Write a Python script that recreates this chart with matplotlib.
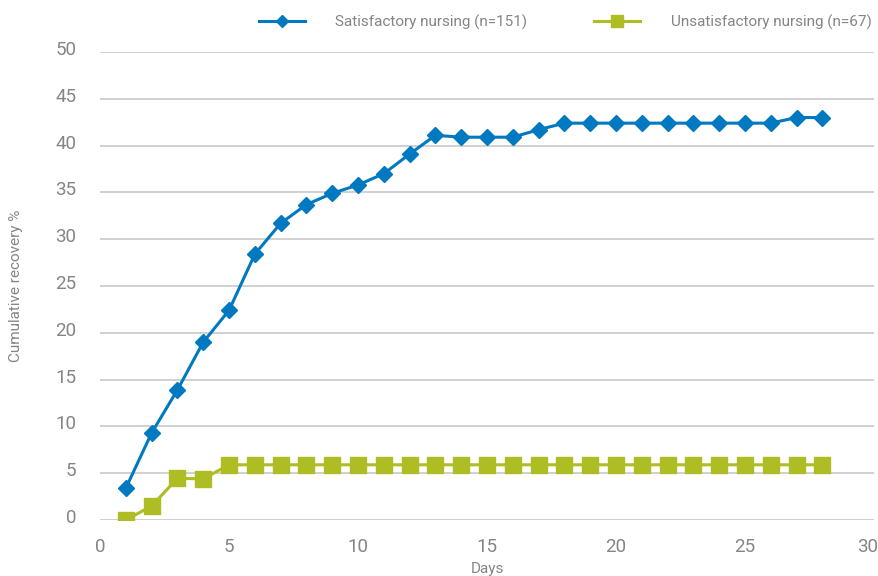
import matplotlib.pyplot as plt
from matplotlib.transforms import ScaledTranslation

plt.rcParams["font.family"] = ["Roboto", "DejaVu Sans"]

# data
days = list(range(1, 29))
satisfactory = [3.4, 9.3, 13.9, 19.0, 22.4, 28.4, 31.7, 33.7, 34.9, 35.8,
                37.0, 39.1, 41.1, 40.9, 40.9, 40.9, 41.7, 42.4, 42.4, 42.4,
                42.4, 42.4, 42.4, 42.4, 42.4, 42.4, 43.0, 43.0]
unsatisfactory = [0.0, 1.5, 4.45, 4.4] + [5.9] * 24

blue = "#0079C1"
green = "#AEBD24"
grey = "#858585"

fig = plt.figure(figsize=(8.79, 5.76), dpi=100)
ax = fig.add_axes([0.1138, 0.0972, 0.8805, 0.8125])

ax.plot(days, satisfactory, color=blue, lw=2.2, marker="D", ms=8,
        label="Satisfactory nursing (n=151)", zorder=3)
ax.plot(days, unsatisfactory, color=green, lw=2.2, marker="s", ms=12,
        label="Unsatisfactory nursing (n=67)", zorder=3)

ax.set_xlim(0, 30)
ax.set_ylim(0, 50)
ax.set_xticks(range(0, 31, 5))
ax.set_yticks(range(0, 51, 5))
ax.grid(axis="y", color="#c8c8c8", lw=1.2)
ax.set_axisbelow(True)
for s in ax.spines.values():
    s.set_visible(False)
ax.tick_params(length=0, colors=grey, labelsize=13.5)
ax.tick_params(axis="y", pad=17)
ax.tick_params(axis="x", pad=13)
# y labels sit a bit above their gridlines
for lab in ax.get_yticklabels():
    lab.set_transform(lab.get_transform() + ScaledTranslation(0, 4 / 100, fig.dpi_scale_trans))
# last x label is pulled in so it stays inside the figure
ax.get_xticklabels()[-1].set_horizontalalignment("right")
ax.get_xticklabels()[-1].set_transform(
    ax.get_xticklabels()[-1].get_transform() + ScaledTranslation(4 / 100, 0, fig.dpi_scale_trans))

ax.set_ylabel("Cumulative recovery %", color=grey, fontsize=11, labelpad=23)
ax.set_xlabel("Days", color=grey, fontsize=11, labelpad=4)

leg = fig.legend(loc="center", bbox_to_anchor=(0.643, 0.962), ncol=2, frameon=False,
                 fontsize=11, handlelength=3.0, handletextpad=2.0, columnspacing=4.4,
                 markerscale=0.75)
for t in leg.get_texts():
    t.set_color(grey)

fig.savefig("out.png", dpi=100)
